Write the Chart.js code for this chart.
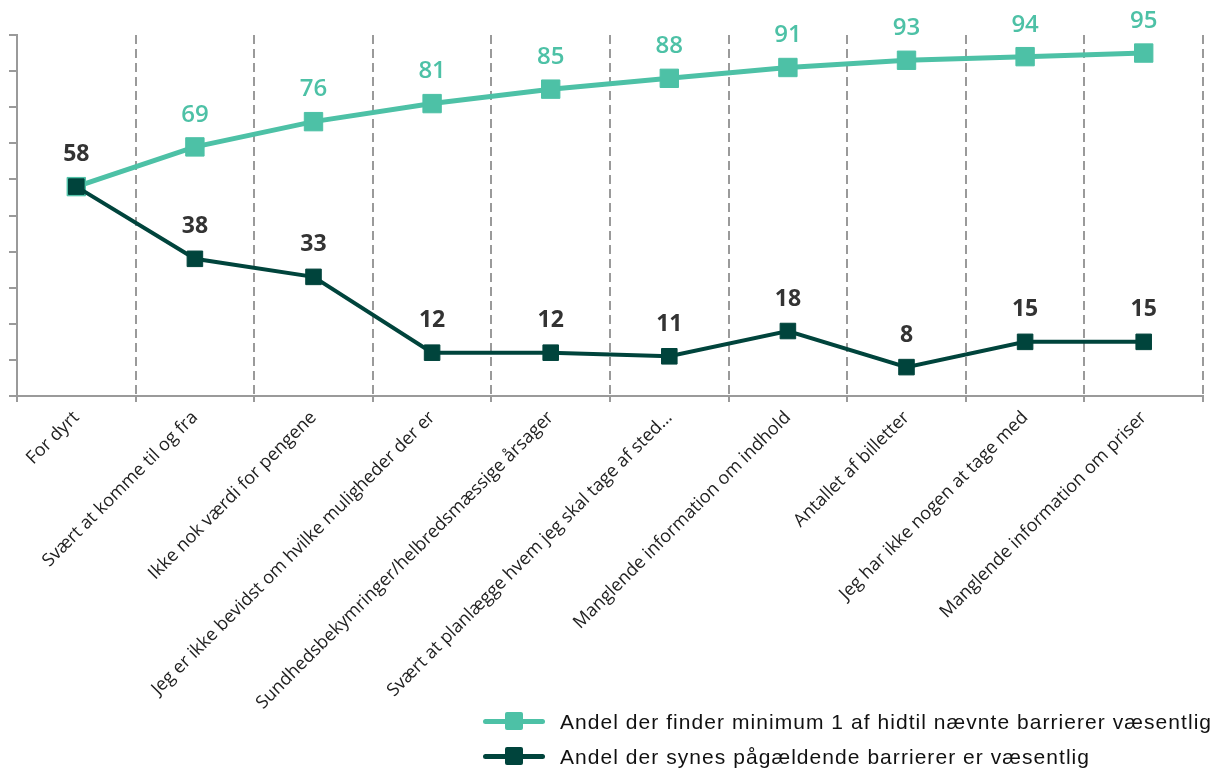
<!DOCTYPE html>
<html lang="da">
<head>
    <meta charset="UTF-8">
    <title>Barrierer</title>
    <style>
        body { margin: 0; background: #fff; }
        .wrap { position: relative; width: 1217px; height: 771px; }
        .legend { position: absolute; left: 483px; top: 704px; font-family: "Liberation Sans", Arial, sans-serif; font-size: 21px; letter-spacing: 1.05px; color: #111; }
        .legend div { height: 35px; display: flex; align-items: center; white-space: nowrap; }
        .icon { position: relative; width: 62px; height: 5px; margin-right: 15px; border-radius: 3px; }
        .icon span { position: absolute; left: 22px; top: -7px; width: 18px; height: 18px; border-radius: 2px; }
    </style>
</head>
<body>
<div class="wrap">
    <canvas id="chart" width="1217" height="771"></canvas>
    <div class="legend">
        <div><i class="icon" style="background:#4dc1a6"><span style="background:#4dc1a6"></span></i>Andel der finder minimum 1 af hidtil nævnte barrierer væsentlig</div>
        <div><i class="icon" style="background:#00443c"><span style="background:#00443c"></span></i>Andel der synes pågældende barrierer er væsentlig</div>
    </div>
</div>

<script src="https://cdn.jsdelivr.net/npm/chart.js"></script>
<script>
const categories = [
    'For dyrt',
    'Svært at komme til og fra',
    'Ikke nok værdi for pengene',
    'Jeg er ikke bevidst om hvilke muligheder der er',
    'Sundhedsbekymringer/helbredsmæssige årsager',
    'Svært at planlægge hvem jeg skal tage af sted…',
    'Manglende information om indhold',
    'Antallet af billetter',
    'Jeg har ikke nogen at tage med',
    'Manglende information om priser'
];
const cumulative = [58, 69, 76, 81, 85, 88, 91, 93, 94, 95];
const single = [58, 38, 33, 12, 12, 11, 18, 8, 15, 15];
const seriesNames = [
    'Andel der finder minimum 1 af hidtil nævnte barrierer væsentlig',
    'Andel der synes pågældende barrierer er væsentlig'
];

const teal = '#4dc1a6';
const dark = '#00443c';
const axisGrey = '#9a9a9a';

// value labels above each point
const valueLabels = {
    id: 'valueLabels',
    afterDatasetsDraw(chart) {
        const ctx = chart.ctx;
        ctx.save();
        ctx.textAlign = 'center';
        ctx.textBaseline = 'middle';
        chart.data.datasets.forEach((ds, i) => {
            const meta = chart.getDatasetMeta(i);
            meta.data.forEach((pt, j) => {
                // first point is shared, only the dark label is shown
                if (i === 0 && ds.data[j] === chart.data.datasets[1].data[j]) return;
                ctx.fillStyle = i === 0 ? teal : '#333';
                ctx.font = (i === 0 ? '600 24px' : 'bold 23px') + ' "Open Sans"';
                ctx.fillText(ds.data[j], pt.x, pt.y - 32);
            });
        });
        ctx.restore();
    }
};

new Chart(document.getElementById('chart'), {
    type: 'line',
    data: {
        labels: categories,
        datasets: [{
            label: seriesNames[0],
            data: cumulative,
            borderColor: teal,
            backgroundColor: teal,
            borderWidth: 5,
            pointStyle: 'rect',
            pointRadius: 13,
            pointBorderWidth: 1,
            order: 1
        }, {
            label: seriesNames[1],
            data: single,
            borderColor: dark,
            backgroundColor: dark,
            borderWidth: 4,
            pointStyle: 'rect',
            pointRadius: 11,
            pointBorderWidth: 1,
            order: 0
        }]
    },
    options: {
        responsive: false,
        animation: false,
        layout: { padding: { top: 35, right: 13, left: 0, bottom: 0 } },
        plugins: { legend: { display: false }, tooltip: { enabled: false } },
        scales: {
            x: {
                offset: true,
                grid: { offset: true, color: axisGrey, lineWidth: 2, tickLength: 6 },
                border: { display: true, color: axisGrey, width: 2, dash: [9, 5] },
                ticks: {
                    autoSkip: false,
                    minRotation: 45,
                    maxRotation: 45,
                    padding: 5,
                    color: '#222',
                    font: { family: 'Open Sans', size: 18 }
                },
                afterFit: s => { s.height = 375; }
            },
            y: {
                min: 0,
                max: 100,
                ticks: { stepSize: 10, display: false },
                grid: { drawOnChartArea: false, color: axisGrey, lineWidth: 2, tickLength: 8 },
                border: { display: true, color: axisGrey, width: 2 },
                afterFit: s => { s.width = 17; }
            }
        }
    },
    plugins: [valueLabels]
});
</script>
</body>
</html>
